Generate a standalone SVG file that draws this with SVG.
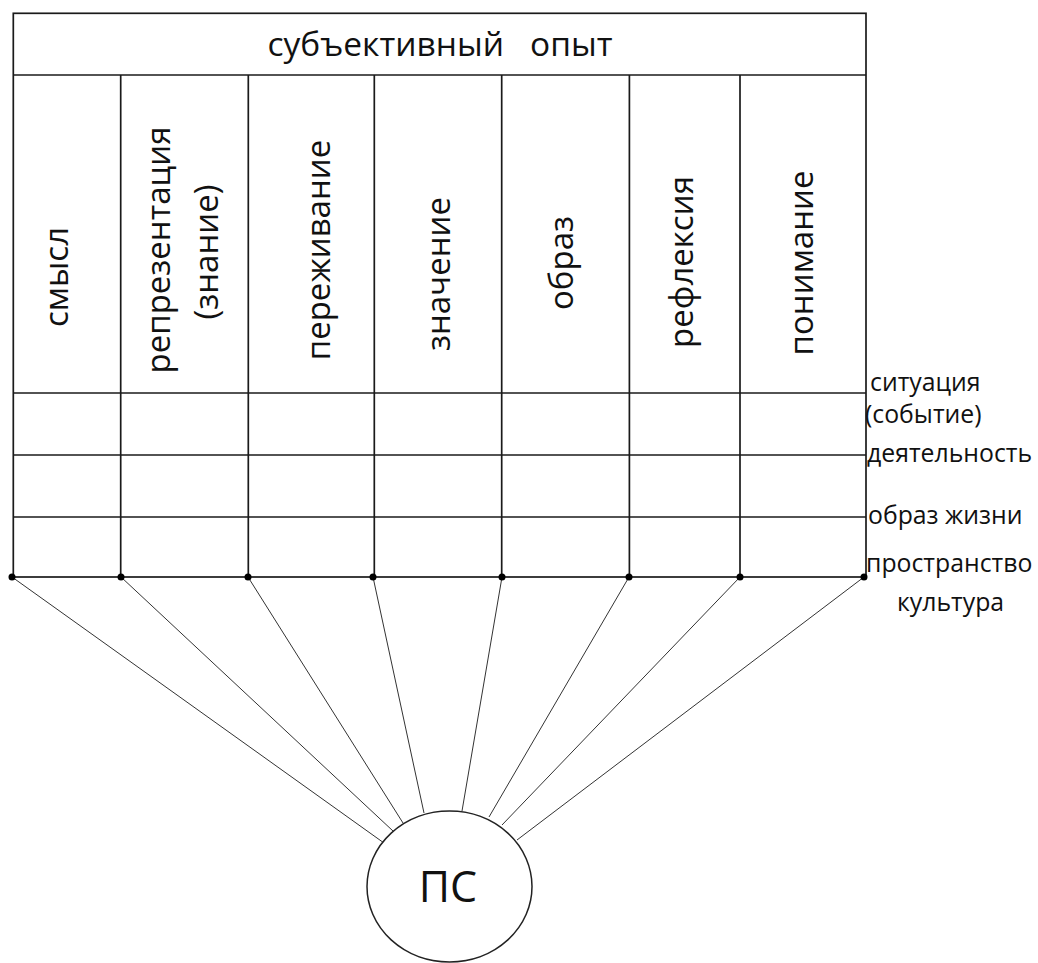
<svg xmlns="http://www.w3.org/2000/svg" width="1038" height="963" viewBox="0 0 1038 963">
<style>
.grid{stroke:#1a1a1a;stroke-width:1.7;fill:none}
.conn{stroke:#333;stroke-width:1;fill:none}
.dot{fill:#000}
.hdr{font-family:"Open Sans","Noto Sans",sans-serif;font-size:33.5px;fill:#111}
.col{font-family:"Open Sans","Noto Sans",sans-serif;font-size:33px;fill:#111;text-anchor:middle}
.side{font-family:"Open Sans","Noto Sans",sans-serif;font-size:24.8px;fill:#111}
.ps{font-family:"Open Sans","Noto Sans",sans-serif;font-size:43px;fill:#111;text-anchor:middle}
</style>
<rect width="1038" height="963" fill="#fff"/>
<g id="table">
<rect class="grid" x="13.3" y="13.3" width="852.7" height="563.7"/>
<line class="grid" x1="13.3" y1="75" x2="866" y2="75"/>
<line class="grid" x1="13.3" y1="393" x2="866" y2="393"/>
<line class="grid" x1="13.3" y1="455" x2="866" y2="455"/>
<line class="grid" x1="13.3" y1="517" x2="866" y2="517"/>
<line class="grid" x1="120.7" y1="75" x2="120.7" y2="577"/>
<line class="grid" x1="248.3" y1="75" x2="248.3" y2="577"/>
<line class="grid" x1="374.3" y1="75" x2="374.3" y2="577"/>
<line class="grid" x1="501.7" y1="75" x2="501.7" y2="577"/>
<line class="grid" x1="629.4" y1="75" x2="629.4" y2="577"/>
<line class="grid" x1="740" y1="75" x2="740" y2="577"/>
<text class="hdr" x="440" y="56" text-anchor="middle" xml:space="preserve">субъективный   опыт</text>
</g>
<g id="columns">
<text class="col" transform="translate(68,277) rotate(-90)">смысл</text>
<text class="col" transform="translate(170,250) rotate(-90)">репрезентация</text>
<text class="col" transform="translate(218,252) rotate(-90)">(знание)</text>
<text class="col" transform="translate(330,250) rotate(-90)">переживание</text>
<text class="col" transform="translate(450,274) rotate(-90)">значение</text>
<text class="col" transform="translate(573,263) rotate(-90)">образ</text>
<text class="col" transform="translate(693,262) rotate(-90)">рефлексия</text>
<text class="col" transform="translate(813,263) rotate(-90)">понимание</text>
</g>
<g id="row-labels">
<text class="side" x="870" y="391">ситуация</text>
<text class="side" x="865" y="423">(событие)</text>
<text class="side" x="867" y="462">деятельность</text>
<text class="side" x="868" y="524">образ жизни</text>
<text class="side" x="866" y="572">пространство</text>
<text class="side" x="897" y="611">культура</text>
</g>
<g id="connectors">
<line class="conn" x1="12" y1="577" x2="384" y2="843"/>
<line class="conn" x1="121" y1="577" x2="393" y2="831"/>
<line class="conn" x1="248" y1="577" x2="403" y2="823"/>
<line class="conn" x1="373" y1="577" x2="424" y2="813"/>
<line class="conn" x1="502" y1="577" x2="462" y2="811"/>
<line class="conn" x1="629" y1="577" x2="489" y2="817"/>
<line class="conn" x1="740" y1="577" x2="502" y2="825"/>
<line class="conn" x1="864" y1="577" x2="517" y2="840"/>
</g>
<g id="dots">
<circle class="dot" cx="12" cy="577" r="3.5"/>
<circle class="dot" cx="121" cy="577" r="3.5"/>
<circle class="dot" cx="248" cy="577" r="3.5"/>
<circle class="dot" cx="373" cy="577" r="3.5"/>
<circle class="dot" cx="502" cy="577" r="3.5"/>
<circle class="dot" cx="629" cy="577" r="3.5"/>
<circle class="dot" cx="740" cy="577" r="3.5"/>
<circle class="dot" cx="864" cy="577" r="3.5"/>
</g>
<g id="ps">
<ellipse cx="449.5" cy="886.5" rx="82.5" ry="75.5" fill="#fff" stroke="#222" stroke-width="1.5"/>
<text class="ps" x="448" y="902">ПС</text>
</g>
</svg>
